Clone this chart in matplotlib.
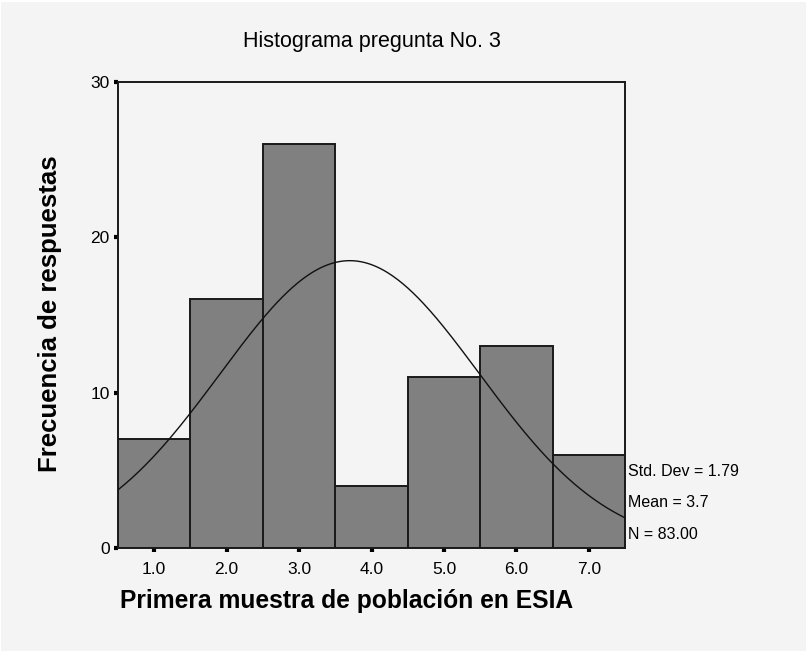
import numpy as np
import matplotlib; matplotlib.use("Agg")
import matplotlib.pyplot as plt
from matplotlib.patches import Rectangle

# bin centres and counts
centers = [1.0, 2.0, 3.0, 4.0, 5.0, 6.0, 7.0]
counts = [7, 16, 26, 4, 11, 13, 6]
tick_labels = ["1.0", "2.0", "3.0", "4.0", "5.0", "6.0", "7.0"]
std_dev = 1.79
mean = 3.7
n_total = 83.00
bin_width = 1.0

BG = "#f4f4f4"
plt.rcParams["font.family"] = ["Liberation Sans", "DejaVu Sans"]

fig = plt.figure(figsize=(8.08, 6.54), dpi=100)
fig.patch.set_facecolor("white")
fig.patches.append(Rectangle((1 / 808, 3 / 654), 805 / 808, 649 / 654,
                             transform=fig.transFigure, facecolor=BG,
                             edgecolor="none", zorder=-10))

ax = fig.add_axes([118 / 808, 106 / 654, 507 / 808, 466 / 654])
ax.set_facecolor(BG)
ax.bar(centers, counts, width=bin_width, color="#808080",
       edgecolor="#1a1a1a", linewidth=1.4, zorder=2)

# normal curve from the stated mean / std dev / N
xs = np.linspace(centers[0] - 0.5, centers[-1] + 0.5, 300)
ys = n_total * bin_width / (std_dev * np.sqrt(2 * np.pi)) * np.exp(-(xs - mean) ** 2 / (2 * std_dev ** 2))
ax.plot(xs, ys, color="#111111", lw=1.0, zorder=3)

ax.set_xlim(0.5, 7.5)
ax.set_ylim(0, 30)
ax.set_yticks([0, 10, 20, 30])
ax.set_xticks(centers)
ax.set_xticklabels(tick_labels)
ax.tick_params(direction="out", length=3, width=3, color="black", labelsize=12.5)
ax.tick_params(axis="x", pad=7)
ax.tick_params(axis="y", pad=3)
for s in ax.spines.values():
    s.set_linewidth(1.4)
    s.set_color("#1a1a1a")

ax.set_title("Histograma pregunta No. 3", fontsize=15.5, pad=25)
ax.text(120 / 808, 1 - 601 / 654, "Primera muestra de población en ESIA",
        transform=fig.transFigure, fontsize=17.7, fontweight="bold",
        ha="left", va="center")
ax.set_ylabel("Frecuencia de respuestas", fontsize=18.5, fontweight="bold")
ax.yaxis.set_label_coords(-0.11, 0.502)

stats = [f"Std. Dev = {std_dev:.2f}", f"Mean = {mean}", f"N = {n_total:.2f}"]
for i, s in enumerate(stats):
    ax.text(1.006, 0.164 - i * 0.067, s, transform=ax.transAxes,
            fontsize=11.5, va="center", ha="left")

fig.savefig("out.png", dpi=100, facecolor=fig.get_facecolor())
